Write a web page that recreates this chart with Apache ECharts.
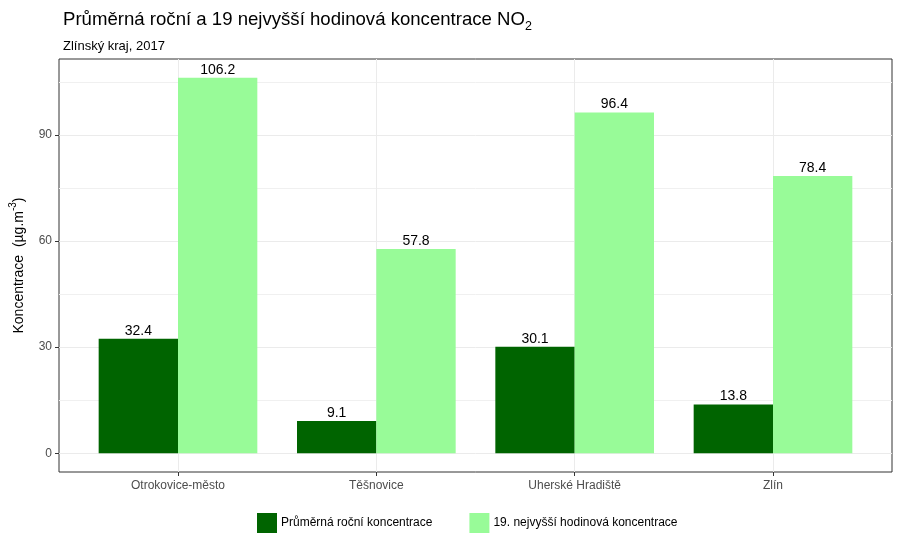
<!DOCTYPE html>
<html>
<head>
<meta charset="utf-8">
<script src="https://cdn.jsdelivr.net/npm/echarts@6/dist/echarts.min.js"></script>
<style>html,body{margin:0;padding:0;background:#fff}#c{width:900px;height:550px}</style>
</head>
<body>
<div id="c"></div>
<script>
const categories = ['Otrokovice-město', 'Těšnovice', 'Uherské Hradiště', 'Zlín'];
const annualMean = [32.4, 9.1, 30.1, 13.8];
const hourly19th = [106.2, 57.8, 96.4, 78.4];
const yMajorTicks = [0, 30, 60, 90];
const yMinorTicks = [15, 45, 75, 105];
const seriesNames = ['Průměrná roční koncentrace', '19. nejvyšší hodinová koncentrace'];

const yMin = -5.31, yMax = 111.51;
const catPositions = categories.map((c, i) => i + 1);
const FONT = 'Liberation Sans, Arial, sans-serif';

const chart = echarts.init(document.getElementById('c'), null, {renderer: 'canvas'});
const gL = 59, gR = 892, gT = 59, gB = 472;
const unit = (gR - gL) / (categories.length + 0.2);
const barLeft = gL + 0.1 * unit, barRight = gR - 0.1 * unit;

chart.setOption({
  animation: false,
  backgroundColor: '#fff',
  textStyle: {fontFamily: FONT},
  title: [
    {
      text: '{t|Průměrná roční a 19 nejvyšší hodinová koncentrace NO}{s|2}',
      left: 58, top: 0,
      textStyle: {
        fontWeight: 'normal',
        rich: {
          t: {fontSize: 18.6, fontWeight: 'normal', color: '#000', fontFamily: FONT, verticalAlign: 'bottom', lineHeight: 24},
          s: {fontSize: 12.5, fontWeight: 'normal', color: '#000', fontFamily: FONT, verticalAlign: 'bottom', lineHeight: 18, padding: [0, 0, -4, 0]}
        }
      }
    },
    {
      text: 'Zlínský kraj, 2017',
      left: 58, top: 35,
      textStyle: {fontSize: 13, fontWeight: 'normal', color: '#000', fontFamily: FONT}
    }
  ],
  legend: {
    left: 257, top: 513, padding: 0,
    itemWidth: 20, itemHeight: 20, itemGap: 37,
    icon: 'rect',
    textStyle: {fontSize: 12, color: '#000', fontFamily: FONT, padding: [0, 0, 0, -1]},
    data: seriesNames
  },
  grid: [
    {left: gL, top: gT, width: gR - gL, height: gB - gT, show: true, borderColor: '#333', borderWidth: 1, backgroundColor: '#fff', containLabel: false},
    {left: barLeft, top: gT, width: barRight - barLeft, height: gB - gT, containLabel: false}
  ],
  xAxis: [
    {
      gridIndex: 0, type: 'value', min: 0.4, max: categories.length + 0.6, position: 'bottom',
      axisLine: {show: false, onZero: false},
      axisTick: {show: true, customValues: catPositions, length: 4, lineStyle: {color: '#333'}},
      axisLabel: {show: true, customValues: catPositions, formatter: v => categories[Math.round(v) - 1] || '', color: '#4d4d4d', fontSize: 12, margin: 8, fontFamily: FONT},
      splitLine: {show: true, lineStyle: {color: '#ebebeb', width: 1}}
    },
    {
      gridIndex: 1, type: 'category', data: categories, show: false
    }
  ],
  yAxis: [
    {
      gridIndex: 0, type: 'value', min: yMin, max: yMax, position: 'left',
      axisLine: {show: false, onZero: false},
      axisTick: {show: true, customValues: yMajorTicks, length: 4, lineStyle: {color: '#333'}},
      axisLabel: {show: true, customValues: yMajorTicks, color: '#4d4d4d', fontSize: 12, margin: 7, fontFamily: FONT},
      splitLine: {show: true, lineStyle: {color: '#ebebeb', width: 1}},
      name: '{a|Koncentrace  (µg.m}{b|-3}{a|)}',
      nameLocation: 'middle', nameRotate: 90, nameGap: 33,
      nameTextStyle: {
        rich: {
          a: {fontSize: 14, color: '#000', fontFamily: FONT, verticalAlign: 'bottom', lineHeight: 18},
          b: {fontSize: 10, color: '#000', fontFamily: FONT, verticalAlign: 'top', lineHeight: 18, padding: [0, 0, 6, 0]}
        }
      }
    },
    {
      gridIndex: 0, type: 'value', min: yMin, max: yMax, position: 'left',
      axisLine: {show: false, onZero: false},
      axisTick: {show: false, customValues: yMinorTicks},
      axisLabel: {show: false, customValues: yMinorTicks},
      splitLine: {show: true, lineStyle: {color: '#f0f0f0', width: 1}}
    },
    {
      gridIndex: 1, type: 'value', min: yMin, max: yMax, show: false, splitLine: {show: false}
    }
  ],
  series: [
    {
      name: seriesNames[0], type: 'bar', xAxisIndex: 1, yAxisIndex: 2,
      data: annualMean, barGap: '0%', barCategoryGap: '20%',
      itemStyle: {color: '#006400'},
      label: {show: true, position: 'top', distance: 1, color: '#000', fontSize: 14, fontFamily: FONT, formatter: p => p.value.toFixed(1)}
    },
    {
      name: seriesNames[1], type: 'bar', xAxisIndex: 1, yAxisIndex: 2,
      data: hourly19th, barGap: '0%', barCategoryGap: '20%',
      itemStyle: {color: '#98FB98'},
      label: {show: true, position: 'top', distance: 1, color: '#000', fontSize: 14, fontFamily: FONT, formatter: p => p.value.toFixed(1)}
    }
  ]
});
</script>
</body>
</html>
